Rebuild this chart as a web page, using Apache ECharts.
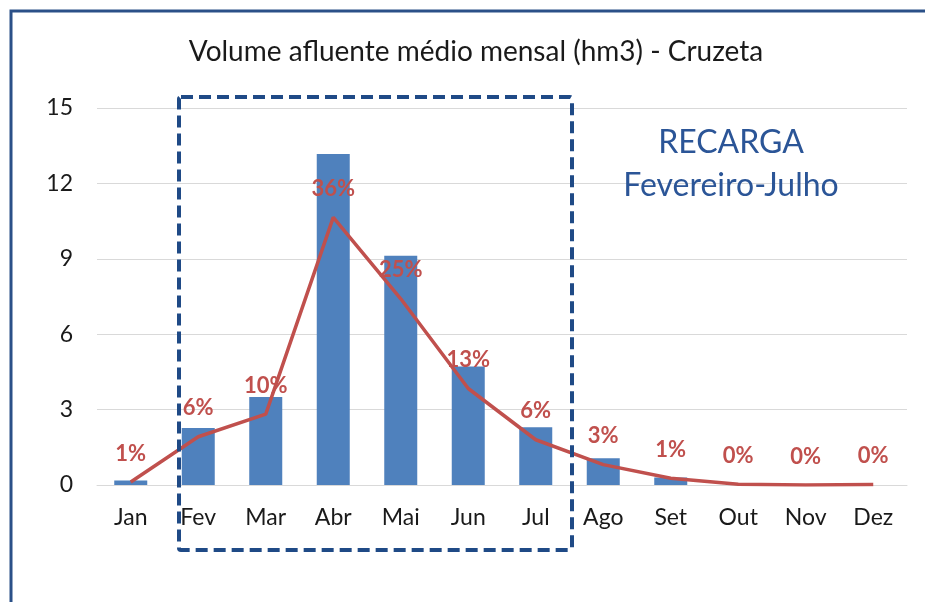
<!DOCTYPE html>
<html>
<head>
<meta charset="utf-8">
<script src="https://cdn.jsdelivr.net/npm/echarts@6/dist/echarts.min.js"></script>
<style>
html,body{margin:0;padding:0;background:#fff;}
#chart{width:925px;height:602px;}
</style>
</head>
<body>
<div id="chart"></div>
<script>
var titleText = 'Volume afluente médio mensal (hm3) - Cruzeta';
var categories = ['Jan','Fev','Mar','Abr','Mai','Jun','Jul','Ago','Set','Out','Nov','Dez'];
var volumes = [0.18, 2.27, 3.5, 13.17, 9.12, 4.71, 2.3, 1.06, 0.3, 0, 0, 0];
var percentLine = [0.4, 6.4, 9.4, 35.5, 24.7, 12.8, 6.0, 2.7, 0.9, 0.1, 0, 0.05];
var percentLabels = ['1%','6%','10%','36%','25%','13%','6%','3%','1%','0%','0%','0%'];
var yTicks = [0, 3, 6, 9, 12, 15];
var noteLines = ['RECARGA', 'Fevereiro-Julho'];

var chart = echarts.init(document.getElementById('chart'), null, {renderer: 'canvas'});
var font = 'Lato, "Open Sans", sans-serif';
chart.setOption({
  backgroundColor: '#ffffff',
  animation: false,
  title: {
    text: titleText,
    left: 471, top: 33, textAlign: 'center',
    textStyle: {fontFamily: font, fontSize: 28, fontWeight: 'normal', color: '#1a1a1a'}
  },
  grid: {left: 97, right: 18, top: 108, bottom: 117, containLabel: false},
  xAxis: {
    type: 'category',
    data: categories,
    axisLine: {show: true, lineStyle: {color: '#d9d9d9', width: 1}},
    axisTick: {show: false},
    axisLabel: {fontFamily: font, fontSize: 23, color: '#1a1a1a', margin: 21}
  },
  yAxis: [{
    type: 'value', min: yTicks[0], max: yTicks[yTicks.length - 1], interval: 3,
    axisLine: {show: false}, axisTick: {show: false},
    axisLabel: {fontFamily: font, fontSize: 23, color: '#1a1a1a', margin: 24},
    splitLine: {lineStyle: {color: '#d9d9d9', width: 1}}
  }, {
    type: 'value', min: 0, max: 50, show: false, splitLine: {show: false}
  }],
  series: [{
    type: 'bar',
    data: volumes,
    barWidth: 33,
    itemStyle: {color: '#4f81bd'},
    z: 2
  }, {
    type: 'line',
    yAxisIndex: 1,
    data: percentLine,
    symbol: 'circle',
    showSymbol: true,
    symbolSize: 1,
    itemStyle: {color: 'rgba(192,80,77,0)'},
    lineStyle: {color: '#c0504d', width: 3.5},
    label: {
      show: true, position: 'top', distance: 17,
      formatter: function (p) { return percentLabels[p.dataIndex]; },
      fontFamily: font, fontSize: 22, fontWeight: 'bold', color: '#c0504d'
    },
    labelLayout: {hideOverlap: false},
    z: 3
  }],
  graphic: [{
    type: 'rect',
    shape: {x: 11, y: 11, width: 1000, height: 800},
    style: {fill: 'none', stroke: '#2b5088', lineWidth: 3},
    z: 100
  }, {
    type: 'rect',
    shape: {x: 179, y: 97, width: 393, height: 453, r: 2},
    style: {fill: 'none', stroke: '#1f4a86', lineWidth: 4, lineDash: [12, 6]},
    z: 100
  }, {
    type: 'text',
    x: 731, y: 143,
    style: {text: noteLines[0], fontFamily: font, fontSize: 32, fill: '#2b5597', align: 'center', verticalAlign: 'middle'},
    z: 100
  }, {
    type: 'text',
    x: 731, y: 186,
    style: {text: noteLines[1], fontFamily: font, fontSize: 32, fill: '#2b5597', align: 'center', verticalAlign: 'middle'},
    z: 100
  }]
});
</script>
</body>
</html>
